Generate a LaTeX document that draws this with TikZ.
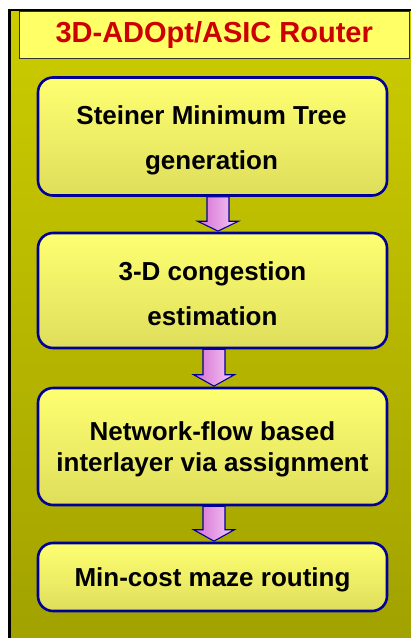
\documentclass[tikz,border=0pt]{standalone}
\usepackage{fontspec}
\setmainfont{Liberation Sans}
\usetikzlibrary{calc}

\definecolor{paneltop}{HTML}{CCCC00}
\definecolor{panelbot}{HTML}{A2A200}
\definecolor{titlefill}{HTML}{FFFF66}
\definecolor{titletext}{HTML}{CC0000}
\definecolor{boxtop}{HTML}{FFFF72}
\definecolor{boxbot}{HTML}{DEDE5C}
\definecolor{navy}{HTML}{000099}
\definecolor{arrowleft}{HTML}{D56BD5}
\definecolor{arrowright}{HTML}{F4CCF4}

\tikzset{
  stagebox/.style={draw=navy, line width=2.6pt, rounded corners=15pt,
    top color=boxtop, bottom color=boxbot, minimum width=349pt,
    inner sep=0pt},
  stagetext/.style={align=center, inner sep=0pt,
    font=\bfseries\fontsize{26}{45}\selectfont},
  titlebox/.style={draw=black!80, line width=0.8pt, fill=titlefill,
    minimum width=389.5pt, minimum height=47pt, inner sep=0pt,
    text=titletext, font=\bfseries\fontsize{29}{34}\selectfont},
  flowarrow/.style={draw=navy, line width=1.1pt, line join=miter,
    left color=arrowleft, right color=arrowright},
}

% block arrow from the bottom of #1 to the top of #2, shifted by #3
\newcommand{\blockarrow}[4]{%
  \path[flowarrow] let \p1=(#1.south), \p2=(#2.north) in
    ({\x1+#3-11pt},\y1) -- ({\x1+#3+11pt},\y1) -- ({\x1+#3+11pt},{\y2+#4}) --
    ({\x1+#3+20.5pt},{\y2+#4}) -- ({\x1+#3},{\y2+0.6pt}) --
    ({\x1+#3-20.5pt},{\y2+#4}) -- ({\x1+#3-11pt},{\y2+#4}) -- cycle;}

\begin{document}
\begin{tikzpicture}[x=1pt,y=-1pt]
  \useasboundingbox (0,0) rectangle (411,638);

  % olive panel with dark top and left edges
  \shade[top color=paneltop, bottom color=panelbot] (9.5,10) rectangle (411,638);
  \draw[black, line width=2.6pt] (9.5,638) -- (9.5,10) -- (411,10);

  \node[titlebox] (title) at (214.25,35) {3D-ADOpt/ASIC Router};

  \node[stagebox, minimum height=118pt] (smt) at (212.5,136.5) {};
  \node[stagebox, minimum height=115pt] (cong) at (212.5,290.5) {};
  \node[stagebox, minimum height=117pt] (via) at (212.5,446.5) {};
  \node[stagebox, minimum height=68pt] (maze) at (212.5,577) {};

  \node[stagetext] (smt-t) at ($(smt.center)+(-1,3.5)$)
    {Steiner Minimum Tree\\generation};
  \node[stagetext] (cong-t) at ($(cong.center)+(0,3)$)
    {3-D congestion\\estimation};
  \node[stagetext, font=\bfseries\fontsize{26}{31}\selectfont] (via-t)
    at ($(via.center)+(0,3)$)
    {Network-flow based\\interlayer via assignment};
  \node[stagetext] (maze-t) at ($(maze.center)+(0,3)$)
    {Min-cost maze routing};

  \blockarrow{smt}{cong}{5.5pt}{10.5pt}
  \blockarrow{cong}{via}{1.5pt}{12pt}
  \blockarrow{via}{maze}{1.5pt}{12pt}
\end{tikzpicture}
\end{document}
